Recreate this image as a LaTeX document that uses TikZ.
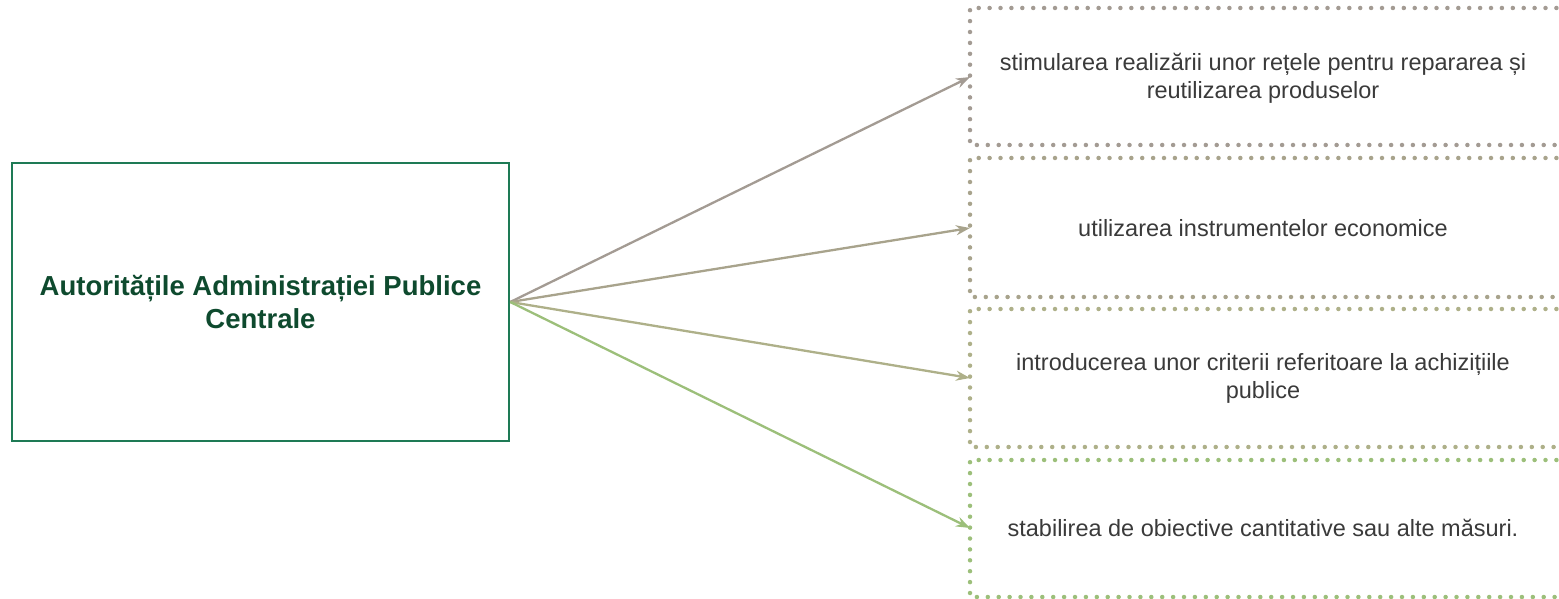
\documentclass[tikz,border=0pt]{standalone}
\usepackage{fontspec}
\setmainfont{Liberation Sans}
\usetikzlibrary{arrows.meta}
\definecolor{mainline}{HTML}{1E7A55}
\definecolor{maintext}{HTML}{0E4A2E}
\definecolor{bodytext}{HTML}{3A3A3A}
\definecolor{toneA}{HTML}{A39B93}
\definecolor{toneB}{HTML}{A8A38C}
\definecolor{toneC}{HTML}{AEB089}
\definecolor{toneD}{HTML}{9CBF7A}
\begin{document}
\begin{tikzpicture}[x=1pt,y=-1pt,
		mainbox/.style={draw=mainline,line width=2.5pt,minimum width=497pt,minimum height=278pt,align=center,
			font=\fontsize{27.5}{33}\selectfont\bfseries,text=maintext,inner sep=0pt},
		dotbox/.style={line width=4.5pt,dash pattern=on 0pt off 10.9pt,line cap=round},
		item/.style={align=center,font=\fontsize{23.5}{28}\selectfont,text=bodytext},
		link/.style={line width=2.3pt,-{Stealth[length=14pt,width=10pt]}}]
		\useasboundingbox (0,0) rectangle (1559,599) ;
		\clip (0,0) rectangle (1559,599) ;
		% left box
		\node[mainbox] (apc) at (260.5,302) {Autoritățile Administrației Publice\\Centrale} ;
		% dotted boxes on the right
		\draw[dotbox,toneA] (1600,8) -- (970,8) -- (970,145) -- (1600,145) ;
		\draw[dotbox,toneB] (1600,158) -- (970,158) -- (970,297) -- (1600,297) ;
		\draw[dotbox,toneC] (1600,309) -- (970,309) -- (970,447) -- (1600,447) ;
		\draw[dotbox,toneD] (1600,460) -- (970,460) -- (970,597) -- (1600,597) ;
		\coordinate (inA) at (970,77) ; \coordinate (inB) at (970,228) ;
		\coordinate (inC) at (970,378) ; \coordinate (inD) at (970,528) ;
		\node[item] (txtA) at (1263,78) {stimularea realizării unor rețele pentru repararea și\\reutilizarea produselor} ;
		\node[item] (txtB) at (1263,228) {utilizarea instrumentelor economice} ;
		\node[item] (txtC) at (1263,378) {introducerea unor criterii referitoare la achizițiile\\publice} ;
		\node[item] (txtD) at (1263,528) {stabilirea de obiective cantitative sau alte măsuri.} ;
		% arrows
		\draw[link,toneA] (apc.east) -- (inA) ;
		\draw[link,toneB] (apc.east) -- (inB) ;
		\draw[link,toneC] (apc.east) -- (inC) ;
		\draw[link,toneD] (apc.east) -- (inD) ;
	\end{tikzpicture}
\end{document}
